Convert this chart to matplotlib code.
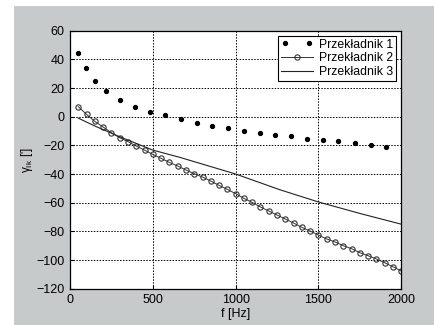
import matplotlib
matplotlib.use('Agg')
import matplotlib.pyplot as plt
from matplotlib.patches import Rectangle
from matplotlib.legend_handler import HandlerLine2D

plt.rcParams['font.family'] = ['Liberation Sans', 'DejaVu Sans']
plt.rcParams['mathtext.fontset'] = 'custom'
plt.rcParams['mathtext.rm'] = 'Liberation Sans'
plt.rcParams['mathtext.it'] = 'Liberation Sans:italic'

# Przekladnik 1 (dots)
f1 = [50, 95, 150, 220, 300, 390, 485, 575, 670, 765, 860, 955,
      1050, 1145, 1240, 1335, 1430, 1525, 1620, 1720, 1815, 1910]
y1 = [44.2, 34.0, 24.9, 17.7, 11.9, 7.0, 3.5, 0.9, -1.4, -4.2, -6.3, -7.9,
      -9.8, -11.4, -12.8, -13.7, -15.3, -16.3, -17.2, -18.4, -19.8, -20.9]

# Przekladnik 2 (circles, every 50 Hz)
f2 = list(range(50, 2001, 50))
y2 = [7.0, 1.6, -3.3, -7.2, -11.2, -14.7, -17.4, -20.5, -23.3, -26.3,
      -29.1, -31.9, -34.4, -37.2, -39.8, -42.1, -44.9, -47.9, -50.7, -53.7,
      -57.0, -59.8, -63.0, -65.8, -68.6, -71.4, -74.2, -77.2, -79.8, -82.6,
      -85.3, -87.4, -90.0, -92.1, -94.9, -97.0, -99.3, -101.9, -104.7, -107.7]

# Przekladnik 3 (line)
f3 = [50, 150, 300, 500, 664, 1000, 1268, 1500, 1750, 2000]
y3 = [-1.0, -6.5, -14.0, -23.3, -28.4, -40.0, -51.0, -59.5, -67.5, -75.0]

labels = ['Przekładnik 1', 'Przekładnik 2', 'Przekładnik 3']

fig = plt.figure(figsize=(4.34, 3.25), dpi=100)
fig.patch.set_facecolor('white')
fig.patches.append(Rectangle((14/434, 0), 420/434, 319/325, transform=fig.transFigure,
                             facecolor='#c6cacb', edgecolor='none', zorder=-10))
ax = fig.add_axes([70/434, 36.3/325, 331.3/434, 258/325])
ax.set_facecolor('white')

l1, = ax.plot(f1, y1, linestyle='none', marker='o', markersize=2.8, color='black', label=labels[0])
l2, = ax.plot(f2, y2, linestyle='-', linewidth=0.7, marker='o', markersize=3.8,
              markerfacecolor='none', markeredgewidth=0.8, color='#333333', label=labels[1])
l3, = ax.plot(f3, y3, linestyle='-', linewidth=0.8, color='#222222', label=labels[2])

ax.set_xlim(0, 2000)
ax.set_ylim(-120, 60)
ax.set_xticks([0, 500, 1000, 1500, 2000])
ax.set_yticks(range(-120, 61, 20))
ax.grid(True, linestyle=(0, (1.5, 1.5)), color='black', linewidth=0.7)
ax.tick_params(direction='in', length=3, labelsize=9, pad=4)
for s in ax.spines.values():
    s.set_linewidth(0.9)

ax.set_xlabel('f [Hz]', fontsize=9, labelpad=1)
ax.set_ylabel(r"$\mathregular{\gamma_{Ik}}$ [']", fontsize=8.5, labelpad=1)

leg = ax.legend(handles=[l1, l2, l3], loc='upper right', fontsize=8.8, frameon=True,
                fancybox=False, edgecolor='black', framealpha=1, borderpad=0.25,
                labelspacing=0.15, handlelength=2.6, handletextpad=0.5,
                borderaxespad=0.4,
                handler_map={l1: HandlerLine2D(numpoints=2), l2: HandlerLine2D(numpoints=1),
                             l3: HandlerLine2D(numpoints=1)})
leg.get_frame().set_linewidth(0.8)

fig.savefig('out.png', dpi=100)
